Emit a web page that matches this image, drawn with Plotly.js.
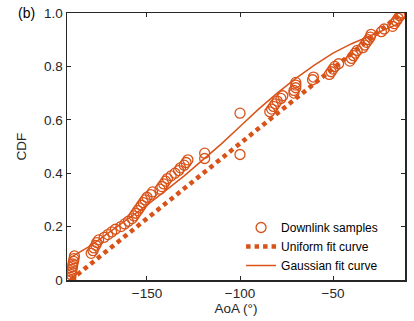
<!DOCTYPE html>
<html>
<head>
<meta charset="utf-8">
<script src="https://cdn.plot.ly/plotly-3.0.1.min.js"></script>
<style>html,body{margin:0;padding:0;background:#fff;}#chart{width:414px;height:321px;}</style>
</head>
<body>
<div id="chart"></div>
<script>
// Downlink samples (AoA in degrees, CDF)
const sampleAoA = [
  -191, -191, -190.8, -190.5, -190.3, -190, -189.8, -189.5, -189.2, -189,
  -180, -179, -178.5, -177.5, -177, -176,
  -173, -171, -169, -167,
  -164, -162, -160, -158, -157,
  -156, -155, -154, -153, -152,
  -151, -150, -148, -147,
  -143, -142, -141, -140, -139,
  -137, -135,
  -133, -132, -130, -129, -128,
  -119, -119,
  -100, -100,
  -84, -83, -82, -81, -80, -78, -77,
  -71, -71, -70, -70, -70,
  -61, -60.5,
  -52, -51, -50, -49, -47,
  -41, -40, -39, -38, -37,
  -34, -33, -32, -31, -30, -29.5,
  -24, -22.5,
  -18, -17, -16, -15, -14, -13.5, -13
];
const sampleCDF = [
  0.00, 0.01, 0.02, 0.03, 0.04, 0.05, 0.06, 0.07, 0.08, 0.09,
  0.10, 0.11, 0.12, 0.13, 0.14, 0.15,
  0.16, 0.17, 0.18, 0.19,
  0.20, 0.21, 0.22, 0.23, 0.24,
  0.25, 0.26, 0.27, 0.28, 0.29,
  0.30, 0.31, 0.32, 0.33,
  0.34, 0.35, 0.36, 0.37, 0.38,
  0.39, 0.40,
  0.41, 0.42, 0.43, 0.44, 0.45,
  0.455, 0.475,
  0.47, 0.625,
  0.63, 0.64, 0.65, 0.66, 0.67, 0.68, 0.69,
  0.70, 0.71, 0.72, 0.73, 0.74,
  0.75, 0.76,
  0.77, 0.78, 0.79, 0.80, 0.81,
  0.82, 0.83, 0.84, 0.85, 0.86,
  0.87, 0.88, 0.89, 0.90, 0.91, 0.92,
  0.93, 0.94,
  0.95, 0.96, 0.97, 0.98, 0.99, 0.995, 1.00
];
// Uniform fit curve
const uniformAoA = [-191, -13];
const uniformCDF = [0, 1];
// Gaussian fit curve
const gaussAoA = [-191, -180, -170, -160, -150, -140, -130, -120, -110, -100, -90, -80, -70, -60, -50, -40, -30, -20, -13];
const gaussCDF = [0.085, 0.13, 0.18, 0.23, 0.28, 0.335, 0.39, 0.45, 0.51, 0.575, 0.64, 0.70, 0.755, 0.805, 0.85, 0.885, 0.915, 0.945, 0.965];
// Axis ticks
const xTickVals = [-150, -100, -50];
const yTickVals = [0, 0.2, 0.4, 0.6, 0.8, 1.0];
const yTickText = ['0', '0.2', '0.4', '0.6', '0.8', '1.0'];

const col = '#D95319';
const ink = '#262626';
const fnt = 'Liberation Sans, Arial, sans-serif';

const traces = [
  {x: sampleAoA, y: sampleCDF, type: 'scatter', mode: 'markers', name: 'Downlink samples',
   marker: {symbol: 'circle-open', size: 10, color: col, line: {width: 1.3, color: col}}},
  {x: uniformAoA, y: uniformCDF, type: 'scatter', mode: 'lines', name: 'Uniform fit curve',
   line: {color: col, width: 4.5, dash: '4.5px,4px'}},
  {x: gaussAoA, y: gaussCDF, type: 'scatter', mode: 'lines', name: 'Gaussian fit curve',
   line: {color: col, width: 1.5}}
];

const layout = {
  width: 414, height: 321,
  margin: {l: 67, r: 9, t: 13, b: 41},
  paper_bgcolor: '#fff', plot_bgcolor: '#fff',
  font: {family: fnt, size: 13, color: ink},
  showlegend: true,
  legend: {x: 0.515, y: 0, xanchor: 'left', yanchor: 'bottom', bgcolor: 'rgba(0,0,0,0)',
           font: {family: fnt, size: 12, color: '#000'}},
  xaxis: {range: [-193, -11.3], tickvals: xTickVals, ticks: 'inside', ticklen: 4, tickwidth: 1,
          tickcolor: ink, showline: true, linecolor: ink, linewidth: 1.5, mirror: 'ticks',
          showgrid: false, zeroline: false, tickfont: {size: 13.5, color: ink},
          title: {text: 'AoA (°)', font: {size: 13.5, color: ink}, standoff: 2}},
  yaxis: {range: [0, 1], tickvals: yTickVals, ticktext: yTickText, ticks: 'inside', ticklen: 4, tickwidth: 1,
          tickcolor: ink, showline: true, linecolor: ink, linewidth: 1.5, mirror: 'ticks',
          showgrid: false, zeroline: false, tickfont: {size: 13.5, color: ink},
          title: {text: 'CDF', font: {size: 13.5, color: ink}, standoff: 14}},
  annotations: [{text: '(b)', xref: 'paper', yref: 'paper', x: -0.09, y: 1, xanchor: 'right', yanchor: 'middle',
                 showarrow: false, font: {size: 14, color: '#000'}}]
};

Plotly.newPlot('chart', traces, layout, {displayModeBar: false, staticPlot: true});
</script>
</body>
</html>
